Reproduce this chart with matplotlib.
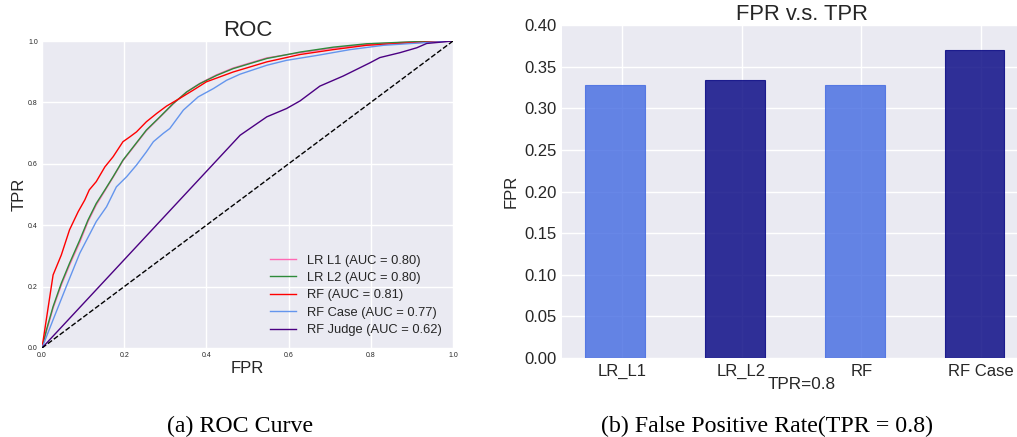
import matplotlib
matplotlib.use("Agg")
import matplotlib.pyplot as plt
import numpy as np

# ---------------- data ----------------
lr_l1_fpr = [0.0, 0.011, 0.027, 0.047, 0.067, 0.092, 0.112, 0.132, 0.153, 0.173, 0.197, 0.222, 0.254, 0.287, 0.319, 0.352, 0.384, 0.425, 0.465, 0.547, 0.628, 0.709, 0.790, 0.912, 1.0]
lr_l1_tpr = [0.0, 0.055, 0.130, 0.205, 0.270, 0.345, 0.412, 0.466, 0.512, 0.556, 0.610, 0.653, 0.708, 0.752, 0.795, 0.834, 0.862, 0.890, 0.912, 0.945, 0.962, 0.977, 0.989, 0.998, 1.0]
lr_l2_fpr = [0.0, 0.011, 0.027, 0.047, 0.067, 0.092, 0.112, 0.132, 0.153, 0.173, 0.197, 0.222, 0.254, 0.287, 0.319, 0.352, 0.384, 0.425, 0.465, 0.547, 0.628, 0.709, 0.790, 0.912, 1.0]
lr_l2_tpr = [0.0, 0.060, 0.135, 0.211, 0.276, 0.352, 0.417, 0.471, 0.515, 0.558, 0.612, 0.655, 0.710, 0.753, 0.796, 0.834, 0.861, 0.888, 0.910, 0.943, 0.964, 0.980, 0.991, 0.998, 1.0]
rf_fpr = [0.0, 0.027, 0.047, 0.067, 0.088, 0.104, 0.115, 0.132, 0.153, 0.173, 0.197, 0.214, 0.230, 0.254, 0.279, 0.303, 0.335, 0.368, 0.400, 0.465, 0.547, 0.628, 0.709, 0.790, 0.912, 1.0]
rf_tpr = [0.0, 0.238, 0.303, 0.385, 0.444, 0.482, 0.515, 0.542, 0.590, 0.623, 0.672, 0.688, 0.704, 0.737, 0.764, 0.788, 0.813, 0.840, 0.867, 0.899, 0.932, 0.956, 0.972, 0.986, 0.995, 1.0]
rfc_fpr = [0.0, 0.027, 0.059, 0.092, 0.132, 0.157, 0.181, 0.206, 0.230, 0.254, 0.271, 0.295, 0.311, 0.344, 0.380, 0.417, 0.449, 0.482, 0.547, 0.595, 0.669, 0.750, 0.831, 0.912, 1.0]
rfc_tpr = [0.0, 0.092, 0.200, 0.309, 0.412, 0.460, 0.525, 0.558, 0.596, 0.639, 0.672, 0.699, 0.715, 0.775, 0.818, 0.845, 0.872, 0.892, 0.921, 0.937, 0.953, 0.972, 0.986, 0.993, 1.0]
rfj_fpr = [0.0, 0.482, 0.547, 0.595, 0.628, 0.676, 0.733, 0.798, 0.822, 0.871, 0.912, 0.936, 1.0]
rfj_tpr = [0.0, 0.693, 0.753, 0.780, 0.805, 0.853, 0.886, 0.929, 0.946, 0.962, 0.978, 0.992, 1.0]

roc_labels = ["LR L1 (AUC = 0.80)", "LR L2 (AUC = 0.80)", "RF (AUC = 0.81)",
              "RF Case (AUC = 0.77)", "RF Judge (AUC = 0.62)"]
roc_colors = ["hotpink", "#2e8b3a", "red", "cornflowerblue", "indigo"]

bar_categories = ["LR_L1", "LR_L2", "RF", "RF Case"]
bar_values = [0.328, 0.3335, 0.3275, 0.3705]
bar_colors = ["royalblue", "navy", "royalblue", "navy"]

# ---------------- style ----------------
plt.rcParams["font.family"] = ["Liberation Sans", "DejaVu Sans"]
BG = "#EAEAF2"

W, H = 1017, 437
fig = plt.figure(figsize=(W / 100, H / 100), dpi=100)

def px_axes(l, t, r, b):
    return fig.add_axes([l / W, 1 - b / H, (r - l) / W, (b - t) / H])

def style(ax):
    ax.set_facecolor(BG)
    for s in ax.spines.values():
        s.set_visible(False)
    ax.grid(True, color="white", linewidth=1.0)
    ax.set_axisbelow(True)
    ax.tick_params(length=0, colors="#262626")

# ---------------- ROC ----------------
ax1 = px_axes(42, 41, 453, 348)
style(ax1)
series = [(lr_l1_fpr, lr_l1_tpr), (lr_l2_fpr, lr_l2_tpr), (rf_fpr, rf_tpr),
          (rfc_fpr, rfc_tpr), (rfj_fpr, rfj_tpr)]
for (xf, yt), lab, col in zip(series, roc_labels, roc_colors):
    ax1.plot(xf, yt, color=col, lw=1.0, label=lab)
ax1.plot([0, 1], [0, 1], "k--", lw=1.0)
ax1.set_xlim(0, 1)
ax1.set_ylim(0, 1)
ax1.set_xticks([0, 0.2, 0.4, 0.6, 0.8, 1.0])
ax1.set_yticks([0, 0.2, 0.4, 0.6, 0.8, 1.0])
ax1.tick_params(labelsize=5, pad=3)
ax1.set_title("ROC", fontsize=16, color="#262626", pad=1)
ax1.set_xlabel("FPR", fontsize=12, color="#262626", labelpad=1)
ax1.set_ylabel("TPR", fontsize=12, color="#262626", labelpad=1)
leg = ax1.legend(loc="lower right", frameon=False, fontsize=9.3,
                 handlelength=2.0, handletextpad=0.8, labelspacing=0.42,
                 borderaxespad=0.5)
for t in leg.get_texts():
    t.set_color("#262626")

# ---------------- bars ----------------
ax2 = px_axes(562, 25, 1041, 358)
style(ax2)
xpos = np.arange(len(bar_categories))
ax2.bar(xpos - 0.055, bar_values, width=0.5, color=bar_colors, alpha=0.8,
        edgecolor=bar_colors, linewidth=0.8)
ax2.set_xticks(xpos)
ax2.set_xticklabels(bar_categories)
ax2.set_xlim(-0.5, 3.5)
ax2.set_ylim(0, 0.40)
ax2.set_yticks(np.arange(0, 0.401, 0.05))
ax2.set_yticklabels([f"{v:.2f}" for v in np.arange(0, 0.401, 0.05)])
ax2.tick_params(labelsize=12, pad=4)
ax2.set_title("FPR v.s. TPR", fontsize=15.8, color="#262626", pad=1)
ax2.set_xlabel("TPR=0.8", fontsize=12.3, color="#262626", labelpad=-1)
ax2.set_ylabel("FPR", fontsize=12, color="#262626", labelpad=4)

# ---------------- captions ----------------
fig.text(240 / W, 1 - 426 / H, "(a) ROC Curve", ha="center", va="center",
         fontsize=17.2, family="Liberation Serif", color="black")
fig.text(767 / W, 1 - 426 / H, "(b) False Positive Rate(TPR = 0.8)", ha="center",
         va="center", fontsize=17.2, family="Liberation Serif", color="black")

fig.savefig("out.png", dpi=100)
